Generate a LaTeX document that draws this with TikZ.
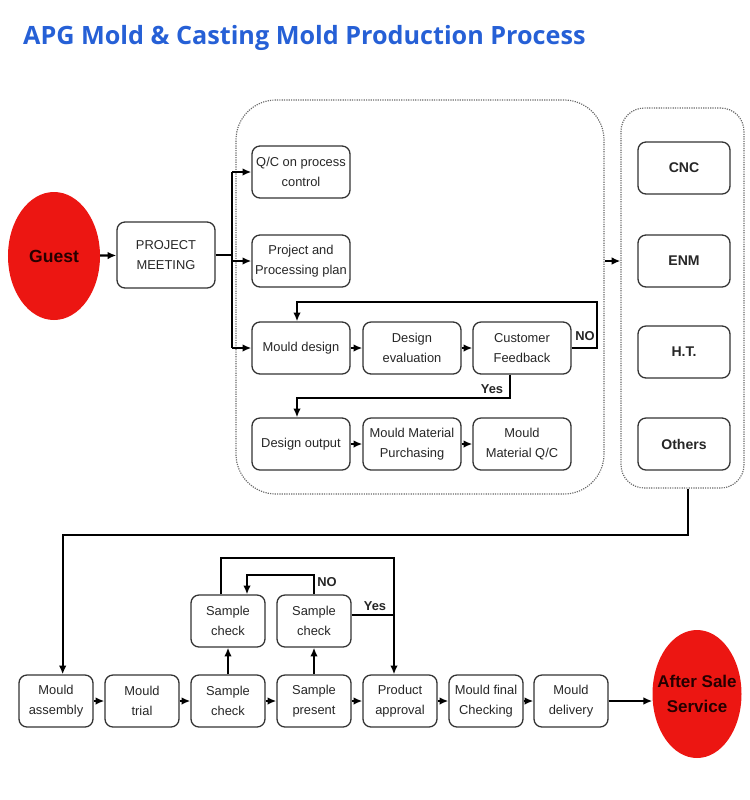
\documentclass[tikz,border=0pt]{standalone}
\usepackage{fontspec}
\setmainfont{Liberation Sans}
\newfontfamily\titlefont{Open Sans}
\usepackage{tikz}
\usetikzlibrary{arrows.meta, positioning, calc, shapes.geometric}
\definecolor{titleblue}{RGB}{38,96,214}
\definecolor{partyred}{RGB}{236,22,18}
\definecolor{framegray}{RGB}{105,105,105}

\begin{document}
\begin{tikzpicture}[x=0.03cm, y=-0.03cm,
  every node/.style={font=\fontsize{11}{17}\selectfont, text=black!85},
  box/.style={draw=black!80, line width=1.1pt, rounded corners=0.24cm, align=center, minimum width=2.94cm, minimum height=1.56cm, inner sep=1pt},
  small/.style={box, minimum width=2.22cm},
  tool/.style={box, minimum width=2.76cm, font=\fontsize{12}{16}\selectfont\bfseries},
  frame/.style={draw=framegray, densely dotted, line width=1pt, rounded corners=1.2cm},
  party/.style={ellipse, fill=partyred, inner sep=0pt},
  partytext/.style={align=center, font=\fontsize{15}{20}\selectfont\bfseries, text=black!85!red},
  post/.style={-{Latex[length=7.5pt,width=6.5pt]}, line width=1.9pt},
  link/.style={line width=1.9pt},
  answer/.style={font=\fontsize{11}{13}\selectfont\bfseries, inner sep=1pt}]

  \useasboundingbox (0,0) rectangle (750,800);

  \node [anchor=west, text=titleblue, font=\titlefont\fontsize{21.5}{26}\selectfont\bfseries] (title) at (19,38)
    {APG Mold \& Casting Mold Production Process};

  % frames
  \node [frame, minimum width=11.04cm, minimum height=11.82cm] (design) at (420,297) {};
  \node [frame, minimum width=3.69cm, minimum height=11.4cm, rounded corners=0.7cm] (equip) at (682.5,298) {};

  % start
  \node [party, minimum width=2.76cm, minimum height=3.84cm] (guest) at (54,256) {};
  \node [partytext] (guesttext) at (guest) {Guest};
  \node [box, minimum height=1.98cm] (pm) at (166,255) {PROJECT\\MEETING};

  % design stage
  \node [box] (qc) at (301,172) {Q/C on process\\control};
  \node [box] (plan) at (301,261) {Project and\\Processing plan};
  \node [box] (md) at (301,348) {Mould design};
  \node [box] (de) at (412,348) {Design\\evaluation};
  \node [box] (cf) at (522,348) {Customer\\Feedback};
  \node [box] (dout) at (301,444) {Design output};
  \node [box] (mmp) at (412,444) {Mould Material\\Purchasing};
  \node [box] (mqc) at (522,444) {Mould\\Material Q/C};

  % machining
  \node [tool] (cnc) at (684,168) {CNC};
  \node [tool] (enm) at (684,261) {ENM};
  \node [tool] (ht) at (684,352) {H.T.};
  \node [tool] (oth) at (684,444) {Others};

  % bottom row
  \node [small] (assembly) at (56,701) {Mould\\assembly};
  \node [small] (trial) at (142,701) {Mould\\trial};
  \node [small] (check) at (228,701) {Sample\\check};
  \node [small] (present) at (314,701) {Sample\\present};
  \node [small] (approval) at (400,701) {Product\\approval};
  \node [small] (final) at (486,701) {Mould final\\Checking};
  \node [small] (delivery) at (571,701) {Mould\\delivery};
  \node [small] (sc1) at (228,621) {Sample\\check};
  \node [small] (sc2) at (314,621) {Sample\\check};
  \node [party, minimum width=2.67cm, minimum height=3.84cm] (after) at (697,694) {};
  \node [partytext, font=\fontsize{14.5}{22}\selectfont\bfseries] (aftertext) at (after) {After Sale\\Service};

  % connectors, top part
  \coordinate (trunk) at (232,0);
  \draw[post] (guest) -- (pm);
  \draw[link] (pm.east) -- (pm.east -| trunk);
  \draw[link] (trunk |- qc) -- (trunk |- md);
  \foreach \n in {qc, plan, md}
    \draw[post] (trunk |- \n) -- (\n);
  \foreach \a/\b in {md/de, de/cf, dout/mmp, mmp/mqc}
    \draw[post] (\a) -- (\b);

  \coordinate (noTop) at (597,302);
  \draw[post] (cf.east) -| (noTop) -| ([xshift=-0.12cm]md.north);
  \node [answer] (no1) at (585,336) {NO};

  \coordinate (yesMid) at (510,398);
  \draw[post] (cf.south -| yesMid) -- (yesMid) -| ([xshift=-0.12cm]dout.north);
  \node [answer] (yes1) at (492,389) {Yes};

  \draw[post] (design.east |- enm) -- (equip.west |- enm);

  \coordinate (drop) at (0,535);
  \draw[post] ([xshift=0.17cm]equip.south) -- ([xshift=0.17cm]equip.south |- drop) -| ([xshift=0.2cm]assembly.north);

  % connectors, bottom part
  \foreach \a/\b in {assembly/trial, trial/check, check/present, present/approval, approval/final, final/delivery}
    \draw[post] (\a) -- (\b);
  \draw[post] (delivery.east) -- (delivery.east -| after.west);

  \draw[post] (check) -- (sc1);
  \draw[post] (present) -- (sc2);

  \coordinate (noLoop) at (314,575);
  \draw[post] (sc2.north) -- (noLoop) -| ([xshift=0.57cm]sc1.north);
  \node [answer] (no2) at (327,582) {NO};

  \coordinate (yesLoop) at (394,558);
  \draw[post] ([xshift=-0.21cm]sc1.north) |- (yesLoop) -- ([xshift=-0.18cm]approval.north);
  \draw[link] ([yshift=0.18cm]sc2.east) -- ([yshift=0.18cm]sc2.east -| yesLoop);
  \node [answer] (yes2) at (375,606) {Yes};

\end{tikzpicture}
\end{document}
